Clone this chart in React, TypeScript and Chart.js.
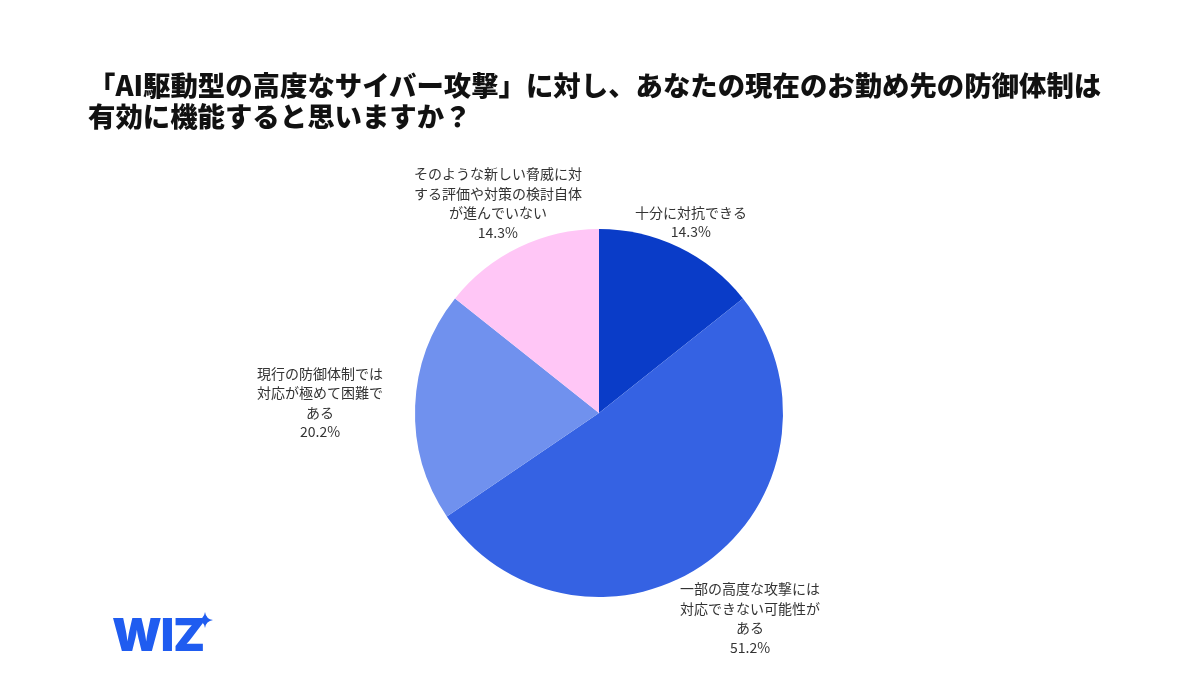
import React, { useEffect, useRef } from "react";
import { Chart, registerables } from "chart.js";

Chart.register(...registerables);

const TITLE_LINES = [
  "「AI駆動型の高度なサイバー攻撃」に対し、あなたの現在のお勤め先の防御体制は",
  "有効に機能すると思いますか？",
];

const categories: string[][] = [
  ["十分に対抗できる"],
  ["一部の高度な攻撃には", "対応できない可能性が", "ある"],
  ["現行の防御体制では", "対応が極めて困難で", "ある"],
  ["そのような新しい脅威に対", "する評価や対策の検討自体", "が進んでいない"],
];

const shares = [14.3, 51.2, 20.2, 14.3];

const sliceColors = ["#0A3CC8", "#3562E3", "#7091EE", "#FFC6F6"];

const LABEL_FONT = '14px "Noto Sans CJK JP", "Noto Sans", sans-serif';
const LINE_H = 19.5;

const outsideLabels = {
  id: "outsideLabels",
  afterDatasetsDraw(chart: any) {
    const meta = chart.getDatasetMeta(0);
    const ctx = chart.ctx;
    ctx.save();
    ctx.font = LABEL_FONT;
    ctx.fillStyle = "#333333";
    ctx.textAlign = "center";
    ctx.textBaseline = "middle";
    meta.data.forEach((arc: any, i: number) => {
      const p = arc.getProps(["x", "y", "startAngle", "endAngle", "outerRadius"], true);
      const mid = (p.startAngle + p.endAngle) / 2;
      const vx = Math.cos(mid);
      const vy = Math.sin(mid);
      const lines = [...categories[i], shares[i].toFixed(1) + "%"];
      const w = Math.max(...lines.map((l) => ctx.measureText(l).width));
      const hw = w / 2;
      const h = lines.length * LINE_H;
      const hh = h / 2;
      const d = p.outerRadius - 15 + 1.75 * hw * Math.abs(vx) + 0.42 * hh * Math.max(0, vy);
      const cx = p.x + vx * d;
      const cy = p.y + vy * d;
      lines.forEach((line, k) => {
        ctx.fillText(line, cx, cy - h / 2 + LINE_H / 2 + k * LINE_H);
      });
    });
    ctx.restore();
  },
};

function PieChart() {
  const ref = useRef<HTMLCanvasElement | null>(null);
  useEffect(() => {
    if (!ref.current) return;
    const chart = new Chart(ref.current, {
      type: "pie",
      data: {
        labels: categories.map((c) => c.join("")),
        datasets: [
          {
            data: shares,
            backgroundColor: sliceColors,
            borderWidth: 0,
          },
        ],
      },
      options: {
        animation: false,
        responsive: false,
        maintainAspectRatio: false,
        layout: { padding: { left: 415, right: 417, top: 229, bottom: 78 } },
        plugins: {
          legend: { display: false },
          tooltip: { enabled: false },
          title: { display: false },
        },
      },
      plugins: [outsideLabels],
    });
    return () => chart.destroy();
  }, []);
  return <canvas ref={ref} width={1200} height={675} style={{ position: "absolute", left: 0, top: 0 }} />;
}

export default function App() {
  return (
    <div
      style={{
        position: "fixed",
        left: 0,
        top: 0,
        width: 1200,
        height: 675,
        background: "#ffffff",
        overflow: "hidden",
      }}
    >
      <PieChart />
      <div
        style={{
          position: "absolute",
          left: 88,
          top: 69,
          fontFamily: '"Noto Sans CJK JP", "Noto Sans", sans-serif',
          fontWeight: 900,
          fontSize: 27.4,
          lineHeight: "31px",
          color: "#111111",
          whiteSpace: "nowrap",
        }}
      >
        {TITLE_LINES.map((t, i) => (
          <div key={i}>{t}</div>
        ))}
      </div>
      <div
        style={{
          position: "absolute",
          left: 112,
          top: 606,
          fontFamily: 'Inter, "DejaVu Sans", sans-serif',
          fontWeight: 900,
          fontSize: 46,
          lineHeight: "56px",
          color: "#1F5CF0",
          letterSpacing: -1,
        }}
      >
        WIZ
      </div>
      <svg
        style={{ position: "absolute", left: 197, top: 612 }}
        width={16}
        height={16}
        viewBox="0 0 16 16"
      >
        <path d="M8 0 Q9 7 16 8 Q9 9 8 16 Q7 9 0 8 Q7 7 8 0 Z" fill="#1F5CF0" />
      </svg>
    </div>
  );
}
